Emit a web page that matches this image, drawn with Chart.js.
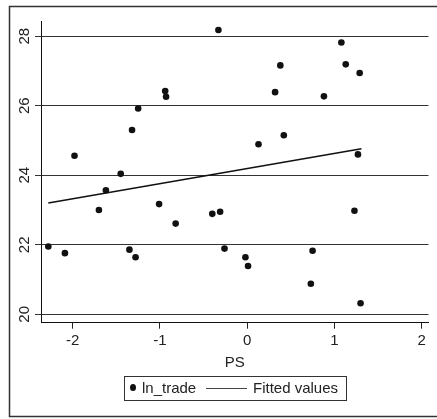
<!DOCTYPE html>
<html>
<head>
<meta charset="utf-8">
<script src="https://cdn.jsdelivr.net/npm/chart.js@4/dist/chart.umd.min.js"></script>
<style>
  html, body { margin: 0; padding: 0; background: #fff; }
  canvas { display: block; }
</style>
</head>
<body>
<canvas id="myChart" width="437" height="419"></canvas>
<script>
// values
const psValues = [
    -0.33, -1.98, -0.94, -0.93, -1.25, -1.32, -1.45, -1.62, -1.01, -1.70,
    1.08, 0.38, 1.13, 1.29, 0.32, 0.88, 0.42, 0.13, 1.27, 1.23,
    -2.28, -2.09, -1.35, -1.28, -0.82, -0.40, -0.31, -0.26, -0.02, 0.01,
    0.75, 0.73, 1.30
];
const lnTrade = [
    28.18, 24.56, 26.42, 26.26, 25.92, 25.30, 24.04, 23.57, 23.17, 23.00,
    27.82, 27.16, 27.19, 26.94, 26.39, 26.27, 25.15, 24.89, 24.60, 22.98,
    21.95, 21.76, 21.86, 21.64, 22.61, 22.89, 22.95, 21.89, 21.64, 21.39,
    21.83, 20.88, 20.32
];
const fittedPs = [-2.28, 1.31];
const fittedValues = [23.20, 24.76];

const xTicks = [-2, -1, 0, 1, 2];
const yTicks = [20, 22, 24, 26, 28];

const FONT = "'Liberation Sans', Arial, sans-serif";

const framePlugin = {
    id: 'frame',
    beforeDraw(chart) {
        const ctx = chart.ctx;
        ctx.save();
        ctx.fillStyle = '#fff';
        ctx.fillRect(0, 0, chart.width, chart.height);
        ctx.strokeStyle = '#333';
        ctx.lineWidth = 1.5;
        ctx.strokeRect(9.5, 6.5, 440, 410);
        ctx.restore();
    },
    afterDraw(chart) {
        // legend box like the stata one
        const ctx = chart.ctx;
        ctx.save();
        ctx.strokeStyle = '#333';
        ctx.lineWidth = 1;
        ctx.strokeRect(124.5, 376.5, 222, 24);
        ctx.fillStyle = '#111';
        ctx.beginPath();
        ctx.ellipse(133, 387.5, 3, 3.5, 0, 0, Math.PI * 2);
        ctx.fill();
        ctx.font = '15px ' + FONT;
        ctx.textBaseline = 'middle';
        ctx.fillStyle = '#222';
        ctx.fillText('ln_trade', 142, 389);
        ctx.strokeStyle = '#444';
        ctx.lineWidth = 1.2;
        ctx.beginPath();
        ctx.moveTo(206, 388.5);
        ctx.lineTo(247, 388.5);
        ctx.stroke();
        ctx.fillText('Fitted values', 253, 389);
        ctx.restore();
    }
};

const points = psValues.map((x, i) => ({x: x, y: lnTrade[i]}));
const fitted = fittedPs.map((x, i) => ({x: x, y: fittedValues[i]}));

const config = {
    type: 'scatter',
    data: {
        datasets: [{
            label: 'ln_trade',
            data: points,
            backgroundColor: '#111',
            borderColor: '#111',
            pointRadius: 3.3,
            pointBorderWidth: 0,
            order: 2
        },
        {
            label: 'Fitted values',
            data: fitted,
            showLine: true,
            borderColor: '#111',
            borderWidth: 1.6,
            pointRadius: 0,
            order: 1
        }]
    },
    options: {
        responsive: false,
        animation: false,
        devicePixelRatio: 1,
        layout: {padding: {top: 21, right: 8.5, left: 0, bottom: 0}},
        plugins: {
            legend: {display: false},
            tooltip: {enabled: false}
        },
        scales: {
            x: {
                type: 'linear',
                min: -2.364,
                max: 2.079,
                afterBuildTicks: s => { s.ticks = xTicks.map(v => ({value: v})); },
                afterFit: s => { s.height = 96.3; },
                grid: {drawOnChartArea: false, drawTicks: true, tickLength: 6, color: '#222'},
                border: {color: '#111', width: 1},
                ticks: {color: '#222', padding: 3, font: {family: FONT, size: 15}, maxRotation: 0},
                title: {
                    display: true,
                    text: 'PS',
                    color: '#222',
                    font: {family: FONT, size: 15},
                    padding: {top: 0, bottom: 47}
                }
            },
            y: {
                type: 'linear',
                min: 19.759,
                max: 28.437,
                afterBuildTicks: s => { s.ticks = yTicks.map(v => ({value: v})); },
                afterFit: s => { s.width = 41; },
                grid: {color: '#333', lineWidth: 1, tickLength: 6},
                border: {color: '#111', width: 1},
                ticks: {
                    color: '#222',
                    padding: 1.5,
                    crossAlign: 'center',
                    minRotation: 90,
                    maxRotation: 90,
                    font: {family: FONT, size: 15}
                }
            }
        }
    },
    plugins: [framePlugin]
};

const myChart = new Chart(document.getElementById('myChart'), config);
</script>
</body>
</html>
